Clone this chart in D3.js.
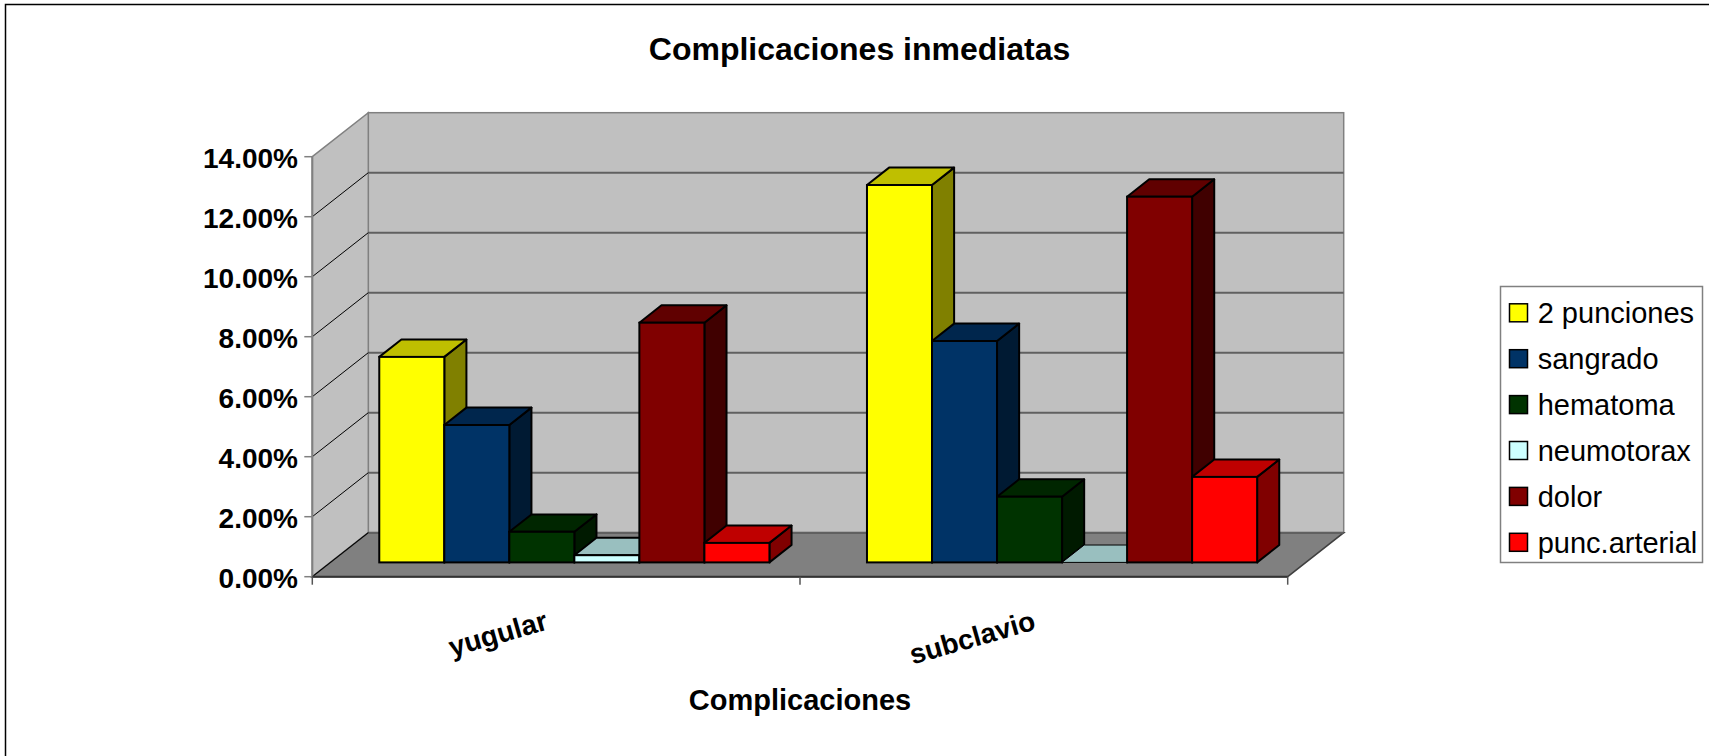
<!DOCTYPE html>
<html>
<head>
<meta charset="utf-8">
<script src="https://cdn.jsdelivr.net/npm/d3@7"></script>
<style>
  html, body { margin: 0; padding: 0; background: #fff; overflow: hidden; }
  svg { display: block; }
  text { font-family: "Liberation Sans", Arial, sans-serif; fill: #000; }
</style>
</head>
<body>
<svg id="chart" width="1709" height="756"></svg>
<script>
// ---- data ----
const categories = ["yugular", "subclavio"];
const series = ["2 punciones", "sangrado", "hematoma", "neumotorax", "dolor", "punc.arterial"];
const seriesColors = ["#FFFF00", "#003366", "#003300", "#CCFFFF", "#800000", "#FF0000"];
const yugularValues   = [0.0685, 0.0458, 0.0102, 0.0024, 0.0799, 0.0065];
const subclavioValues = [0.1258, 0.0738, 0.0219, 0.0000, 0.1219, 0.0285];
const yTicks = [0, 0.02, 0.04, 0.06, 0.08, 0.10, 0.12, 0.14];
const titleText = "Complicaciones inmediatas";
const xTitleText = "Complicaciones";

const valuesByCategory = { yugular: yugularValues, subclavio: subclavioValues };

// ---- layout ----
const svg = d3.select("#chart");
const plotLeft = 312.3, plotRight = 1287.7;
const plotBottom = 576.7, plotTop = 156.7;
const DX = 56, DY = 44;          // depth offset of back wall
const f0 = 0.325, f1 = 0.72;     // bar depth position (fraction of depth)

const x0 = d3.scaleBand().domain(categories).range([plotLeft, plotRight]).paddingInner(0).paddingOuter(0);
const x1 = d3.scaleBand().domain(series).range([0, x0.bandwidth()]).paddingInner(0).paddingOuter(0.75);
const y = d3.scaleLinear().domain([0, 0.14]).range([plotBottom, plotTop]);
const color = d3.scaleOrdinal().domain(series).range(seriesColors);

function shade(c, k) {
  const r = d3.rgb(c);
  return d3.rgb(Math.round(r.r * k), Math.round(r.g * k), Math.round(r.b * k)).formatHex();
}

// outer chart border (only top and left edges are inside the picture)
svg.append("path").attr("d", "M5.5,760 L5.5,4.5 L1712,4.5")
  .attr("fill", "none").attr("stroke", "#000").attr("stroke-width", 1.5);

// ---- walls ----
const g = svg.append("g");
// back wall
g.append("rect")
  .attr("x", plotLeft + DX).attr("y", plotTop - DY)
  .attr("width", plotRight - plotLeft).attr("height", plotBottom - plotTop)
  .attr("fill", "#C0C0C0").attr("stroke", "#808080").attr("stroke-width", 1.5);
// left wall
g.append("polygon")
  .attr("points", [[plotLeft, plotTop], [plotLeft + DX, plotTop - DY], [plotLeft + DX, plotBottom - DY], [plotLeft, plotBottom]].join(" "))
  .attr("fill", "#C0C0C0").attr("stroke", "#808080").attr("stroke-width", 1.5);
// floor
g.append("polygon")
  .attr("points", [[plotLeft, plotBottom], [plotRight, plotBottom], [plotRight + DX, plotBottom - DY], [plotLeft + DX, plotBottom - DY]].join(" "))
  .attr("fill", "#808080").attr("stroke", "#404040").attr("stroke-width", 1.5);

// gridlines on back wall
g.selectAll("line.grid").data(yTicks.filter(t => t > 0 && t < 0.14)).enter().append("line")
  .attr("class", "grid")
  .attr("x1", plotLeft + DX).attr("x2", plotRight + DX)
  .attr("y1", d => y(d) - DY).attr("y2", d => y(d) - DY)
  .attr("stroke", "#606060").attr("stroke-width", 2);
// back wall bottom line
g.append("line")
  .attr("x1", plotLeft + DX).attr("x2", plotRight + DX)
  .attr("y1", y(0) - DY).attr("y2", y(0) - DY)
  .attr("stroke", "#606060").attr("stroke-width", 2);
// diagonals on left wall
g.selectAll("line.diag").data(yTicks.filter(t => t < 0.14)).enter().append("line")
  .attr("class", "diag")
  .attr("x1", plotLeft).attr("x2", plotLeft + DX)
  .attr("y1", d => y(d)).attr("y2", d => y(d) - DY)
  .attr("stroke", "#000").attr("stroke-width", 1);

// ---- bars ----
const bars = [];
categories.forEach(c => {
  valuesByCategory[c].forEach((v, i) => {
    bars.push({ cat: c, ser: series[i], value: v });
  });
});

const bw = x1.bandwidth();
const ddx = (f1 - f0) * DX, ddy = (f1 - f0) * DY;
const barG = svg.append("g");
bars.forEach(d => {
  const xl = x0(d.cat) + x1(d.ser) + f0 * DX;
  const xr = xl + bw;
  const yb = y(0) - f0 * DY;
  const yt = y(d.value) - f0 * DY;
  const c = color(d.ser);
  const gg = barG.append("g");
  // side
  gg.append("polygon")
    .attr("points", [[xr, yt], [xr + ddx, yt - ddy], [xr + ddx, yb - ddy], [xr, yb]].join(" "))
    .attr("fill", shade(c, 0.5)).attr("stroke", "#000").attr("stroke-width", 2).attr("stroke-linejoin", "round");
  // top
  gg.append("polygon")
    .attr("points", [[xl, yt], [xr, yt], [xr + ddx, yt - ddy], [xl + ddx, yt - ddy]].join(" "))
    .attr("fill", shade(c, 0.75)).attr("stroke", "#000").attr("stroke-width", d.value > 0 ? 2 : 1).attr("stroke-linejoin", "round");
  // front
  if (d.value > 0) {
    gg.append("rect")
      .attr("x", xl).attr("y", yt).attr("width", bw).attr("height", yb - yt)
      .attr("fill", c).attr("stroke", "#000").attr("stroke-width", 2);
  }
});

// ---- axes ----
// value axis
const yAxisG = svg.append("g");
yAxisG.append("line").attr("x1", plotLeft).attr("x2", plotLeft)
  .attr("y1", y(0.14)).attr("y2", y(0)).attr("stroke", "#808080").attr("stroke-width", 2);
yAxisG.selectAll("line.tick").data(yTicks).enter().append("line")
  .attr("x1", plotLeft - 8).attr("x2", plotLeft)
  .attr("y1", d => y(d)).attr("y2", d => y(d))
  .attr("stroke", "#808080").attr("stroke-width", 1.5);
const pct = d3.format(".2%");
yAxisG.selectAll("text").data(yTicks).enter().append("text")
  .attr("x", 298).attr("y", d => y(d) + 11)
  .attr("text-anchor", "end")
  .style("font-size", "28px").style("font-weight", "bold")
  .text(d => pct(d));

// category axis
const xAxisG = svg.append("g");
xAxisG.append("line").attr("x1", plotLeft).attr("x2", plotRight)
  .attr("y1", plotBottom).attr("y2", plotBottom).attr("stroke", "#333").attr("stroke-width", 2);
const tickXs = categories.map(c => x0(c)).concat([x0(categories[categories.length - 1]) + x0.bandwidth()]);
xAxisG.selectAll("line.tick").data(tickXs).enter().append("line")
  .attr("x1", d => d).attr("x2", d => d)
  .attr("y1", plotBottom).attr("y2", plotBottom + 8)
  .attr("stroke", "#555").attr("stroke-width", 1.5);
xAxisG.selectAll("text").data(categories).enter().append("text")
  .attr("transform", c => `translate(${x0(c) + x0.bandwidth() / 2 - 7},629) rotate(-16)`)
  .attr("text-anchor", "end")
  .style("font-size", "28px").style("font-weight", "bold")
  .text(c => c);

// titles
svg.append("text").attr("x", 859.5).attr("y", 60).attr("text-anchor", "middle")
  .style("font-size", "32px").style("font-weight", "bold").text(titleText);
svg.append("text").attr("x", 800).attr("y", 710).attr("text-anchor", "middle")
  .style("font-size", "29px").style("font-weight", "bold").text(xTitleText);

// ---- legend ----
const lg = svg.append("g");
lg.append("rect").attr("x", 1500.5).attr("y", 286.5).attr("width", 202).attr("height", 276)
  .attr("fill", "#fff").attr("stroke", "#808080").attr("stroke-width", 1.5);
const items = lg.selectAll("g.item").data(series).enter().append("g")
  .attr("transform", (d, i) => `translate(0,${313.3 + i * 45.9})`);
items.append("rect").attr("x", 1509.5).attr("y", -9.5).attr("width", 18).attr("height", 18)
  .attr("fill", d => color(d)).attr("stroke", "#000").attr("stroke-width", 1.5);
items.append("text").attr("x", 1537.7).attr("y", 10)
  .style("font-size", "29px").text(d => d);
</script>
</body>
</html>
